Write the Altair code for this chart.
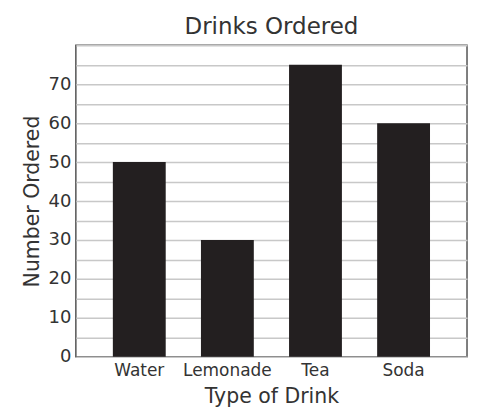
import altair as alt
import pandas as pd

drinks = ["Water", "Lemonade", "Tea", "Soda"]
counts = [50, 30, 75, 60]
grid_values = list(range(0, 81, 5))

df = pd.DataFrame({"Drink": drinks, "Count": counts})

FONT = "DejaVu Sans"

chart = alt.Chart(df).mark_bar(color="#231f20").encode(
    x=alt.X("Drink:N", sort=drinks,
            scale=alt.Scale(paddingInner=0.4, paddingOuter=0.42),
            axis=alt.Axis(title="Type of Drink", labelAngle=0, ticks=False,
                          domain=False, labelFontSize=17, titleFontSize=20.5,
                          labelColor="#333", titleColor="#333", labelPadding=6,
                          titlePadding=8, titleFontWeight="normal",
                          labelFont=FONT, titleFont=FONT)),
    y=alt.Y("Count:Q", scale=alt.Scale(domain=[0, 80], nice=False),
            axis=alt.Axis(title="Number Ordered", values=grid_values,
                          labelExpr="(datum.value % 10 == 0 && datum.value < 80) ? datum.label : ''",
                          ticks=False, domain=False, grid=True,
                          gridColor="#c8c8c8", gridWidth=1.5,
                          labelFontSize=18, titleFontSize=20.5,
                          labelColor="#333", titleColor="#333", labelPadding=5,
                          titlePadding=6, titleFontWeight="normal",
                          labelFont=FONT, titleFont=FONT)),
).properties(
    width=392, height=312,
    padding={"left": 14, "top": 8, "right": 5, "bottom": 2},
    title=alt.TitleParams("Drinks Ordered", fontSize=23, font=FONT,
                          fontWeight="normal", color="#333", offset=6),
).configure_view(stroke="#555", strokeWidth=1.5)

chart.save("out.html", embed_options={"renderer": "svg", "actions": False})
